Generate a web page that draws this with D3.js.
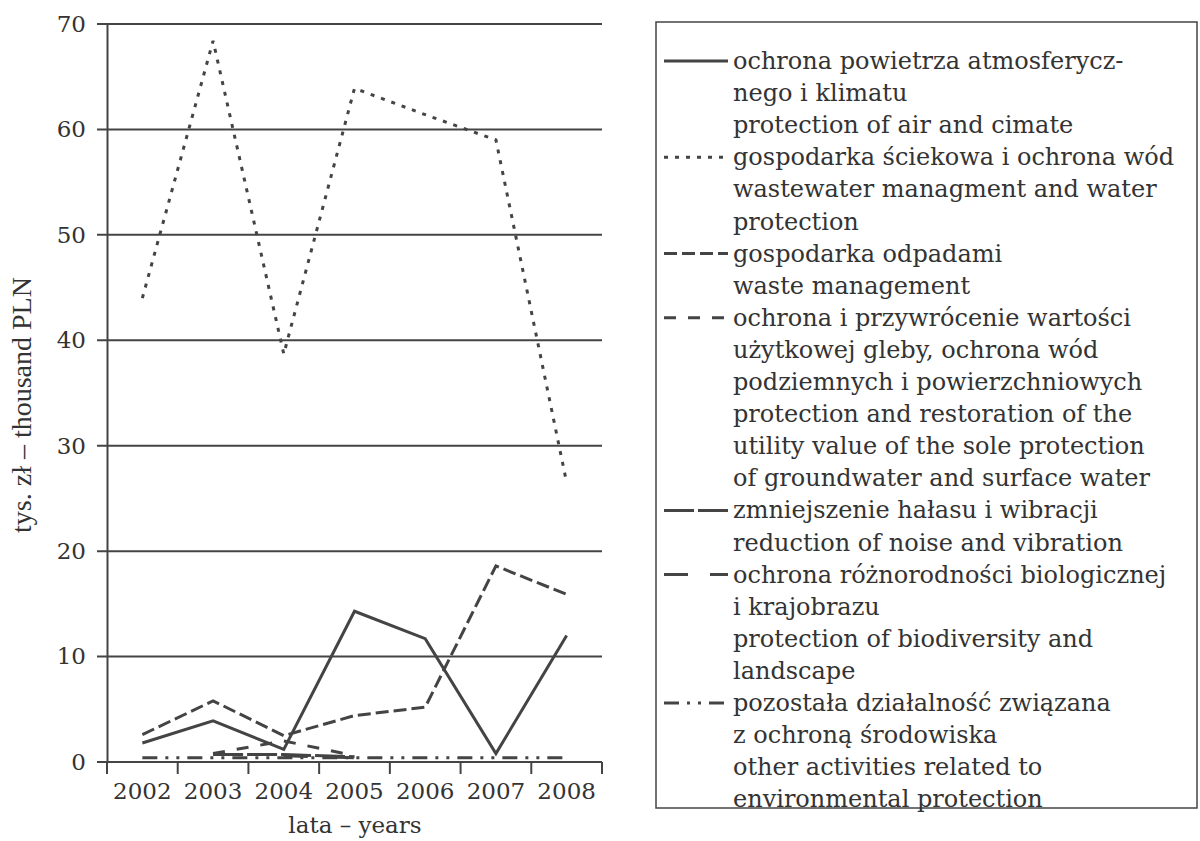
<!DOCTYPE html>
<html>
<head>
<meta charset="utf-8">
<script src="https://cdn.jsdelivr.net/npm/d3@7"></script>
<style>
  body { margin: 0; background: #fff; }
  svg { display: block; }
</style>
</head>
<body>
<script>
'use strict';

// chart data
const years = ['2002', '2003', '2004', '2005', '2006', '2007', '2008'];
const airClimate = [1.8, 3.9, 1.2, 14.3, 11.7, 0.8, 12.0];
const wastewater = [44.0, 68.4, 38.7, 63.9, 61.4, 59.0, 26.5];
const wasteMgmt = [2.6, 5.8, 2.5, 4.4, 5.2, 18.6, 15.9];
const soilWater = [null, 0.8, 2.0, 0.6, null, null, null];
const noise = [null, 0.7, 0.7, 0.5, null, null, null];
const biodiversity = [null, null, 0.6, 0.4, null, null, null];
const otherActivities = [0.4, 0.4, 0.4, 0.4, 0.4, 0.4, 0.4];
const yTicks = [0, 10, 20, 30, 40, 50, 60, 70];

const legendLabels = [
  ['ochrona powietrza atmosferycz-', 'nego i klimatu', 'protection of air and cimate'],
  ['gospodarka ściekowa i ochrona wód', 'wastewater managment and water', 'protection'],
  ['gospodarka odpadami', 'waste management'],
  ['ochrona i przywrócenie wartości', 'użytkowej gleby, ochrona wód', 'podziemnych i powierzchniowych',
   'protection and restoration of the', 'utility value of the sole protection', 'of groundwater and surface water'],
  ['zmniejszenie hałasu i wibracji', 'reduction of noise and vibration'],
  ['ochrona różnorodności biologicznej', 'i krajobrazu', 'protection of biodiversity and', 'landscape'],
  ['pozostała działalność związana', 'z ochroną środowiska', 'other activities related to', 'environmental protection']
];

(function() {

  let svgContainer = '';
  const ink = '#444';
  const font = 'DejaVu Serif, serif';

  // one dash pattern per series, same order as the legend
  const dashes = ['none', '4,7', '13,5', '12,12', '30,4', '24,22', '15,8,3,8,3,8'];
  const seriesList = [airClimate, wastewater, wasteMgmt, soilWater, noise, biodiversity, otherActivities];

  window.onload = function() {
    svgContainer = d3.select('body')
      .append('svg')
      .attr('width', 1200)
      .attr('height', 841);

    let map = drawAxes();
    plotData(map);
    makeLabels();
    makeLegend();
  };

  // axes, ticks and grid lines
  function drawAxes() {
    let xScale = d3.scaleBand()
      .domain(years)
      .range([107, 602]);

    let yScale = d3.scaleLinear()
      .domain([0, 70])
      .range([762, 24]);

    // horizontal grid lines double as the left ticks
    svgContainer.append('g')
      .selectAll('line')
      .data(yTicks)
      .enter()
      .append('line')
        .attr('x1', 97)
        .attr('x2', 602)
        .attr('y1', (d) => yScale(d))
        .attr('y2', (d) => yScale(d))
        .attr('stroke', ink)
        .attr('stroke-width', 2);

    let yAxis = d3.axisLeft(yScale)
      .tickValues(yTicks)
      .tickSize(0)
      .tickPadding(21);
    let gy = svgContainer.append('g')
      .attr('transform', 'translate(107, 0)')
      .call(yAxis);
    gy.select('.domain').attr('stroke', ink).attr('stroke-width', 2);
    gy.selectAll('text')
      .style('font-family', font)
      .style('font-size', '23px')
      .attr('fill', '#333');

    // x axis ticks sit on the band edges
    let edges = years.map((d) => xScale(d)).concat([xScale.range()[1]]);
    svgContainer.append('g')
      .selectAll('line')
      .data(edges)
      .enter()
      .append('line')
        .attr('x1', (d) => d)
        .attr('x2', (d) => d)
        .attr('y1', 762)
        .attr('y2', 774)
        .attr('stroke', ink)
        .attr('stroke-width', 2);

    svgContainer.append('g')
      .selectAll('text')
      .data(years)
      .enter()
      .append('text')
        .attr('x', (d) => xScale(d) + xScale.bandwidth() / 2)
        .attr('y', 799)
        .attr('text-anchor', 'middle')
        .style('font-family', font)
        .style('font-size', '23px')
        .attr('fill', '#333')
        .text((d) => d);

    return {
      x: (i) => xScale(years[i]) + xScale.bandwidth() / 2,
      y: yScale
    };
  }

  // one path per series
  function plotData(map) {
    let line = d3.line()
      .defined((d) => d != null)
      .x((d, i) => map.x(i))
      .y((d) => map.y(d));

    svgContainer.append('g')
      .selectAll('path')
      .data(seriesList)
      .enter()
      .append('path')
        .attr('d', line)
        .attr('fill', 'none')
        .attr('stroke', ink)
        .attr('stroke-width', 3)
        .attr('stroke-dasharray', (d, i) => dashes[i]);
  }

  // axis titles
  function makeLabels() {
    svgContainer.append('text')
      .attr('transform', 'translate(31, 405)rotate(-90)')
      .attr('text-anchor', 'middle')
      .style('font-family', 'Liberation Serif, serif')
      .style('font-size', '28px')
      .attr('fill', '#333')
      .text('tys. zł – thousand PLN');

    svgContainer.append('text')
      .attr('x', 355)
      .attr('y', 833)
      .attr('text-anchor', 'middle')
      .style('font-family', font)
      .style('font-size', '23px')
      .attr('fill', '#333')
      .text('lata – years');
  }

  // boxed legend on the right
  function makeLegend() {
    svgContainer.append('rect')
      .attr('x', 656)
      .attr('y', 22)
      .attr('width', 541)
      .attr('height', 786)
      .attr('fill', 'none')
      .attr('stroke', ink)
      .attr('stroke-width', 1.5);

    let lineStep = 32.1;
    let firstBase = 69;
    let row = 0;
    legendLabels.forEach(function(lines, k) {
      let base = firstBase + row * lineStep;
      svgContainer.append('line')
        .attr('x1', 664)
        .attr('x2', 728)
        .attr('y1', base - 8)
        .attr('y2', base - 8)
        .attr('stroke', ink)
        .attr('stroke-width', 3)
        .attr('stroke-dasharray', dashes[k]);

      lines.forEach(function(t, j) {
        svgContainer.append('text')
          .attr('x', 733)
          .attr('y', base + j * lineStep)
          .style('font-family', font)
          .style('font-size', '24px')
          .attr('fill', '#333')
          .text(t);
      });
      row += lines.length;
    });
  }

})();
</script>
</body>
</html>
